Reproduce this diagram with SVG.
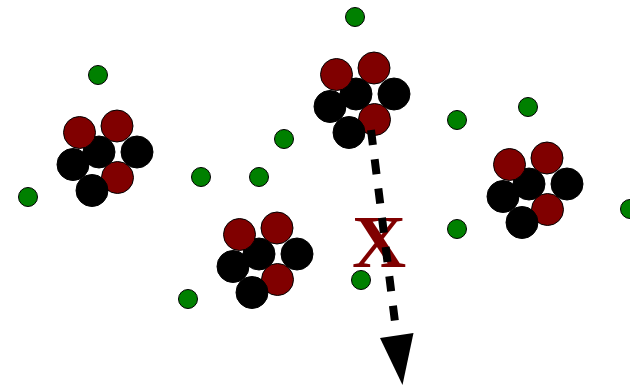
<svg xmlns="http://www.w3.org/2000/svg" width="630" height="389" viewBox="0 0 630 389">
  <style>
    .blk { fill: #000000; stroke: #000000; stroke-width: 1; }
    .red { fill: #800000; stroke: #000000; stroke-width: 1; }
    .grn { fill: #008000; stroke: #000000; stroke-width: 1; }
    .mark { font-family: "Liberation Serif", "Times New Roman", serif; font-weight: bold; font-size: 75px; fill: #800000; }
  </style>
  <defs>
    <!-- seven-disc cluster, centred on its middle black disc -->
    <g id="cluster">
      <circle class="blk" cx="0" cy="0" r="16"/>
      <circle class="blk" cx="38" cy="0" r="16"/>
      <circle class="blk" cx="-26" cy="12.5" r="16"/>
      <circle class="red" cx="-19.5" cy="-19.5" r="16"/>
      <circle class="red" cx="18" cy="-26" r="16"/>
      <circle class="red" cx="18.5" cy="25.5" r="16"/>
      <circle class="blk" cx="-7" cy="38.5" r="16"/>
    </g>
  </defs>

  <rect width="630" height="389" fill="#ffffff"/>

  <g id="cluster-1"><use href="#cluster" x="99" y="152"/></g>
  <g id="cluster-2"><use href="#cluster" x="356" y="94"/></g>
  <g id="cluster-3"><use href="#cluster" x="529" y="184"/></g>
  <g id="cluster-4"><use href="#cluster" x="259" y="254"/></g>

  <g id="dots">
    <circle class="grn" cx="355" cy="17" r="9.5"/>
    <circle class="grn" cx="98" cy="75" r="9.5"/>
    <circle class="grn" cx="284" cy="139" r="9.5"/>
    <circle class="grn" cx="201" cy="177" r="9.5"/>
    <circle class="grn" cx="259" cy="177" r="9.5"/>
    <circle class="grn" cx="457" cy="120" r="9.5"/>
    <circle class="grn" cx="528" cy="107" r="9.5"/>
    <circle class="grn" cx="28" cy="197" r="9.5"/>
    <circle class="grn" cx="457" cy="229" r="9.5"/>
    <circle class="grn" cx="361" cy="280" r="9.5"/>
    <circle class="grn" cx="188" cy="299" r="9.5"/>
    <circle class="grn" cx="630" cy="209" r="9.5"/>
  </g>

  <!-- blocked-path mark; the dashed arrow runs over it -->
  <text class="mark" x="379" y="267" text-anchor="middle">X</text>

  <g id="connectors">
    <line x1="371" y1="130" x2="396.5" y2="334" stroke="#000000" stroke-width="8" stroke-dasharray="15 14.5"/>
    <polygon points="380,338 413.5,333 402.5,385" fill="#000000"/>
  </g>
</svg>
